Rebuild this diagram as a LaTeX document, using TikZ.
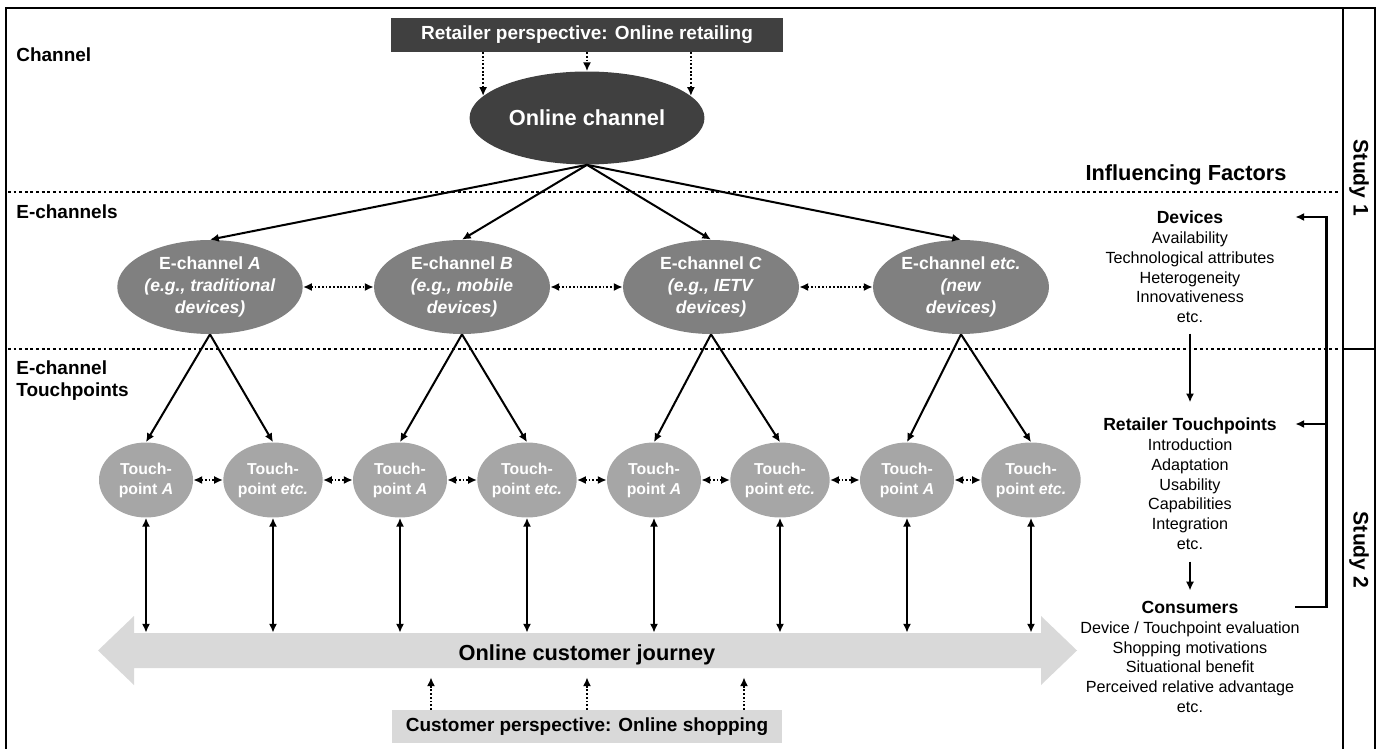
\documentclass[tikz,border=0pt]{standalone}
\usepackage{fontspec}
\setmainfont{Liberation Sans}
\usetikzlibrary{arrows.meta,shapes.geometric,positioning,calc}

\definecolor{darkgrey}{HTML}{404040}
\definecolor{midgrey}{HTML}{808080}
\definecolor{lightgrey}{HTML}{A6A6A6}
\definecolor{palegrey}{HTML}{D9D9D9}

\tikzset{
  >={Latex[length=5pt,width=4.6pt]},
  conn/.style={line width=1.15pt,->},
  dotconn/.style={line width=1.3pt,dash pattern=on 1pt off 1.1pt},
  sepline/.style={line width=1.7pt,dash pattern=on 1.6pt off 1.6pt},
  echan/.style={ellipse,fill=midgrey,text=white,inner sep=0pt,minimum width=3.52cm,minimum height=1.88cm,align=center,font=\fontsize{10}{12.3}\selectfont\bfseries},
  tpoint/.style={ellipse,fill=lightgrey,text=white,inner sep=0pt,minimum width=1.88cm,minimum height=1.5cm,align=center,font=\fontsize{9}{11.3}\selectfont\bfseries},
  rowlabel/.style={anchor=west,inner sep=0pt,font=\fontsize{10.8}{12.5}\selectfont\bfseries},
  factor/.style={inner sep=0pt,minimum width=4.2cm,text depth=0pt,font=\fontsize{10}{11.2}\selectfont\bfseries},
  items/.style={inner sep=0pt,align=center,font=\fontsize{9.2}{11.2}\selectfont},
  study/.style={rotate=-90,inner sep=0pt,font=\fontsize{12}{14}\selectfont\bfseries},
  fback/.style={line width=1.7pt}
}

\begin{document}
\begin{tikzpicture}[x=0.02cm,y=-0.02cm]
\useasboundingbox (0,0) rectangle (1379,749);
% frame and study column
\draw[line width=1.2pt] (6,749) -- (6,8) -- (1375,8) -- (1375,749);
\draw[line width=1.2pt] (1343,8) -- (1343,749);
\draw[line width=1.2pt] (1343,349) -- (1375,349);
\node[study] (study1) at (1359,178) {Study 1};
\node[study] (study2) at (1359,550) {Study 2};
\draw[sepline] (8,192) -- (1338,192);
\draw[sepline] (8,349) -- (1338,349);

\node[rowlabel] (lchannel) at (16,55) {Channel};
\node[rowlabel] (lechannel) at (16,212) {E-channels};
\node[rowlabel,anchor=north west,align=left] (ltouch) at (16,360) {E-channel\\Touchpoints};
\node[font=\fontsize{12.4}{15}\selectfont\bfseries] (infl) at (1186,175) {Influencing Factors};

% channel
\node[fill=darkgrey,text=white,minimum width=7.84cm,minimum height=0.68cm,inner sep=0pt,font=\fontsize{10.8}{13}\selectfont\bfseries] (retail) at (587,35) {Retailer perspective: Online retailing};
\node[ellipse,fill=darkgrey,text=white,minimum width=4.7cm,minimum height=1.86cm,inner sep=0pt,font=\fontsize{12.4}{15}\selectfont\bfseries] (online) at (587,118) {Online channel};
\draw[dotconn,->] (retail.south -| online.168) -- (online.168);
\draw[dotconn,->] (retail) -- (online);
\draw[dotconn,->] (retail.south -| online.12) -- (online.12);

% e-channels
\node[echan] (eA) at (210,287) {E-channel \textit{A}\\\textit{(e.g., traditional}\\\textit{devices)}};
\node[echan] (eB) at (462,287) {E-channel \textit{B}\\\textit{(e.g., mobile}\\\textit{devices)}};
\node[echan] (eC) at (711,287) {E-channel \textit{C}\\\textit{(e.g., IETV}\\\textit{devices)}};
\node[echan] (eX) at (961,287) {E-channel \textit{etc.}\\\textit{(new}\\\textit{devices)}};
\draw[conn] (online.south) -- (eA.north);
\draw[conn] (online.south) -- (eB.north);
\draw[conn] (online.south) -- (eC.north);
\draw[conn] (online.south) -- (eX.north);
\draw[dotconn,<->] (eA) -- (eB);
\draw[dotconn,<->] (eB) -- (eC);
\draw[dotconn,<->] (eC) -- (eX);

% touchpoints
\node[tpoint] (tpA1) at (146,480) {Touch-\\point \textit{A}};
\node[tpoint] (tpA2) at (273,480) {Touch-\\point \textit{etc.}};
\node[tpoint] (tpB1) at (400,480) {Touch-\\point \textit{A}};
\node[tpoint] (tpB2) at (527,480) {Touch-\\point \textit{etc.}};
\node[tpoint] (tpC1) at (654,480) {Touch-\\point \textit{A}};
\node[tpoint] (tpC2) at (780,480) {Touch-\\point \textit{etc.}};
\node[tpoint] (tpX1) at (907,480) {Touch-\\point \textit{A}};
\node[tpoint] (tpX2) at (1031,480) {Touch-\\point \textit{etc.}};
\draw[conn] (eA.south) -- (tpA1.north);
\draw[conn] (eA.south) -- (tpA2.north);
\draw[conn] (eB.south) -- (tpB1.north);
\draw[conn] (eB.south) -- (tpB2.north);
\draw[conn] (eC.south) -- (tpC1.north);
\draw[conn] (eC.south) -- (tpC2.north);
\draw[conn] (eX.south) -- (tpX1.north);
\draw[conn] (eX.south) -- (tpX2.north);
\draw[dotconn,<->] (tpA1) -- (tpA2);
\draw[dotconn,<->] (tpA2) -- (tpB1);
\draw[dotconn,<->] (tpB1) -- (tpB2);
\draw[dotconn,<->] (tpB2) -- (tpC1);
\draw[dotconn,<->] (tpC1) -- (tpC2);
\draw[dotconn,<->] (tpC2) -- (tpX1);
\draw[dotconn,<->] (tpX1) -- (tpX2);

% customer journey
\fill[palegrey] (98,650.5) -- (134,616) -- (134,633) -- (1041,633) -- (1041,616) -- (1077,650.5)
  -- (1041,685) -- (1041,668) -- (134,668) -- (134,685) -- cycle;
\node[minimum height=0.88cm,inner sep=0pt,font=\fontsize{12.4}{15}\selectfont\bfseries] (journey) at (587,655) {Online customer journey};
\draw[conn,<->] (tpA1.south) -- (tpA1.south |- journey.north);
\draw[conn,<->] (tpA2.south) -- (tpA2.south |- journey.north);
\draw[conn,<->] (tpB1.south) -- (tpB1.south |- journey.north);
\draw[conn,<->] (tpB2.south) -- (tpB2.south |- journey.north);
\draw[conn,<->] (tpC1.south) -- (tpC1.south |- journey.north);
\draw[conn,<->] (tpC2.south) -- (tpC2.south |- journey.north);
\draw[conn,<->] (tpX1.south) -- (tpX1.south |- journey.north);
\draw[conn,<->] (tpX2.south) -- (tpX2.south |- journey.north);
\node[fill=palegrey,minimum width=7.82cm,minimum height=0.66cm,inner sep=0pt,font=\fontsize{10.8}{13}\selectfont\bfseries] (customer) at (587,726.5) {Customer perspective: Online shopping};
\coordinate (cusL) at ($(customer.north)+(-156,0)$);
\coordinate (cusR) at ($(customer.north)+(157,0)$);
\draw[dotconn,->] (cusL) -- (cusL |- journey.south);
\draw[dotconn,->] (customer) -- (journey);
\draw[dotconn,->] (cusR) -- (cusR |- journey.south);

% influencing factors
\node[factor] (devH) at (1190,217) {Devices};
\node[items,below=0.16cm of devH] (devL) {Availability\\Technological attributes\\Heterogeneity\\Innovativeness\\etc.};
\node[factor] (rtH) at (1190,424) {Retailer Touchpoints};
\node[items,below=0.16cm of rtH] (rtL) {Introduction\\Adaptation\\Usability\\Capabilities\\Integration\\etc.};
\node[factor] (conH) at (1190,607) {Consumers};
\node[items,below=0.16cm of conH] (conL) {Device / Touchpoint evaluation\\Shopping motivations\\Situational benefit\\Perceived relative advantage\\etc.};
\draw[conn,shorten <=6pt,shorten >=8.5pt] (devL) -- (rtH);
\draw[conn,shorten <=6.8pt,shorten >=5.7pt] (rtL) -- (conH);
\coordinate (fbk) at (1326,424);
\draw[fback,->] (conH.east) -| (fbk) |- (devH.east);
\draw[fback,->] (fbk) -- (rtH.east);
\end{tikzpicture}
\end{document}
